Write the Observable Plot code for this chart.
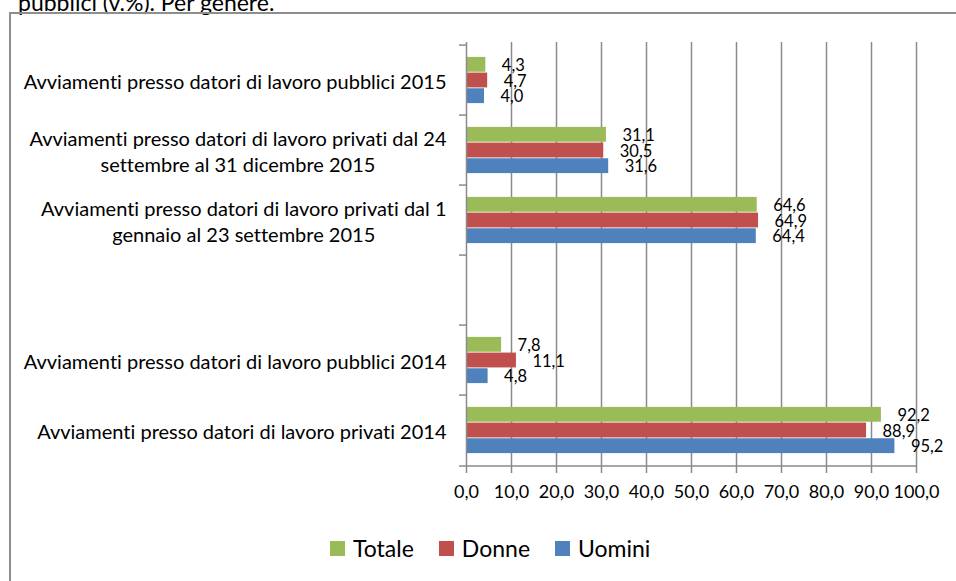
<!DOCTYPE html>
<html><head><meta charset="utf-8">
<script src="https://cdn.jsdelivr.net/npm/d3@7"></script>
<script src="https://cdn.jsdelivr.net/npm/@observablehq/plot@0.6"></script>
<style>
html,body{margin:0;padding:0;background:#fff;overflow:hidden;width:956px;height:581px;font-family:Lato,"Open Sans",sans-serif;color:#000;font-variant-ligatures:none;font-feature-settings:"liga" 0;}
#title{position:absolute;left:18px;top:-10px;font-size:23px;line-height:24px;white-space:nowrap;}
#frame{position:absolute;left:9px;top:12px;width:1000px;height:700px;border-left:2px solid #8e8e8e;border-top:2px solid #8e8e8e;}
#chart{position:absolute;left:0;top:0;}
#chart svg, #chart svg text{font-variant-ligatures:none;font-feature-settings:"liga" 0;}
#legend{position:absolute;left:330px;top:534px;display:flex;align-items:center;font-size:23px;white-space:nowrap;}
#legend .item{display:flex;align-items:center;margin-right:25px;}
#legend .sw{width:15px;height:15px;margin-right:8px;}
</style></head>
<body>
<div id="title">pubblici (v.%). Per genere.</div>
<div id="frame"></div>
<div id="chart"></div>
<div id="legend"></div>
<script>
const categories = [
  "Avviamenti presso datori di lavoro pubblici 2015",
  "Avviamenti presso datori di lavoro privati dal 24\nsettembre al 31 dicembre 2015",
  "Avviamenti presso datori di lavoro privati dal 1\ngennaio al 23 settembre 2015",
  "",
  "Avviamenti presso datori di lavoro pubblici 2014",
  "Avviamenti presso datori di lavoro privati 2014"
];
const series = ["Totale", "Donne", "Uomini"];
const colors = ["#9BBB59", "#C0504D", "#4F81BD"];
const totale = [4.3, 31.1, 64.6, null, 7.8, 92.2];
const donne  = [4.7, 30.5, 64.9, null, 11.1, 88.9];
const uomini = [4.0, 31.6, 64.4, null, 4.8, 95.2];
const xTicks = [0, 10, 20, 30, 40, 50, 60, 70, 80, 90, 100];

const values = [totale, donne, uomini];
const fmt = v => v.toFixed(1).replace(".", ",");
const gray = "#8a8a8a";

const W = 956, H = 510;
const plotTop = 42, plotBottom = 467;
const bw = (plotBottom - plotTop) / categories.length;
const groupFrac = 0.664;
const barH = bw * groupFrac / 3;
const groupTop = (bw - 3 * barH) / 2;

const marks = [];
marks.push(Plot.ruleX(xTicks.slice(1), {stroke: gray, strokeWidth: 1.5}));
series.forEach((s, k) => {
  const rows = categories.map((c, i) => ({cat: c, value: values[k][i], series: s})).filter(d => d.value != null);
  marks.push(Plot.barX(rows, {
    x: "value", y: "cat", fill: colors[k],
    insetTop: groupTop + k * barH,
    insetBottom: bw - groupTop - (k + 1) * barH
  }));
  marks.push(Plot.text(rows, {
    x: "value", y: "cat", text: d => fmt(d.value),
    textAnchor: "start", dx: 16, dy: (k - 1) * barH + 1,
    fontSize: 16.5, fill: "#000"
  }));
});
marks.push(Plot.ruleX([0], {stroke: gray, strokeWidth: 1.5}));
marks.push(Plot.ruleY([categories[categories.length - 1]], {dy: bw / 2, insetLeft: -7, stroke: gray, strokeWidth: 1.5}));
marks.push(Plot.ruleY(categories, {y: d => d, x1: 0, x2: 0, dy: -bw / 2, insetLeft: -7, stroke: gray, strokeWidth: 1.5}));
marks.push(Plot.axisY({tickSize: 0, tickPadding: 20, fontSize: 20, lineHeight: 1.3, fill: "#000"}));
marks.push(Plot.axisX(xTicks, {tickSize: 6, tickPadding: 12, tickFormat: fmt, fontSize: 18, stroke: gray, strokeWidth: 1.5, fill: "#000"}));

const svg = Plot.plot({
  width: W, height: H,
  marginLeft: 466, marginRight: W - 916, marginTop: plotTop, marginBottom: H - plotBottom,
  x: {domain: [0, 100], label: null},
  y: {domain: categories, type: "band", padding: 0, label: null},
  style: {fontFamily: "Lato, 'Open Sans', sans-serif", fontSize: "18px", color: "#000", background: "none", overflow: "visible"},
  marks
});
document.getElementById("chart").appendChild(svg);

// center multi-line category labels within their block (Excel style)
d3.select(svg).selectAll('g[aria-label="y-axis tick label"] text').each(function() {
  const tspans = this.querySelectorAll("tspan");
  if (tspans.length > 1) {
    let w = 0;
    tspans.forEach(t => { w = Math.max(w, t.getComputedTextLength()); });
    this.setAttribute("text-anchor", "middle");
    tspans.forEach(t => t.setAttribute("x", -w / 2));
  }
});

const legend = document.getElementById("legend");
series.forEach((s, k) => {
  const item = document.createElement("div");
  item.className = "item";
  const sw = document.createElement("div");
  sw.className = "sw";
  sw.style.background = colors[k];
  const lab = document.createElement("span");
  lab.textContent = s;
  item.appendChild(sw); item.appendChild(lab);
  legend.appendChild(item);
});
</script>
</body></html>
